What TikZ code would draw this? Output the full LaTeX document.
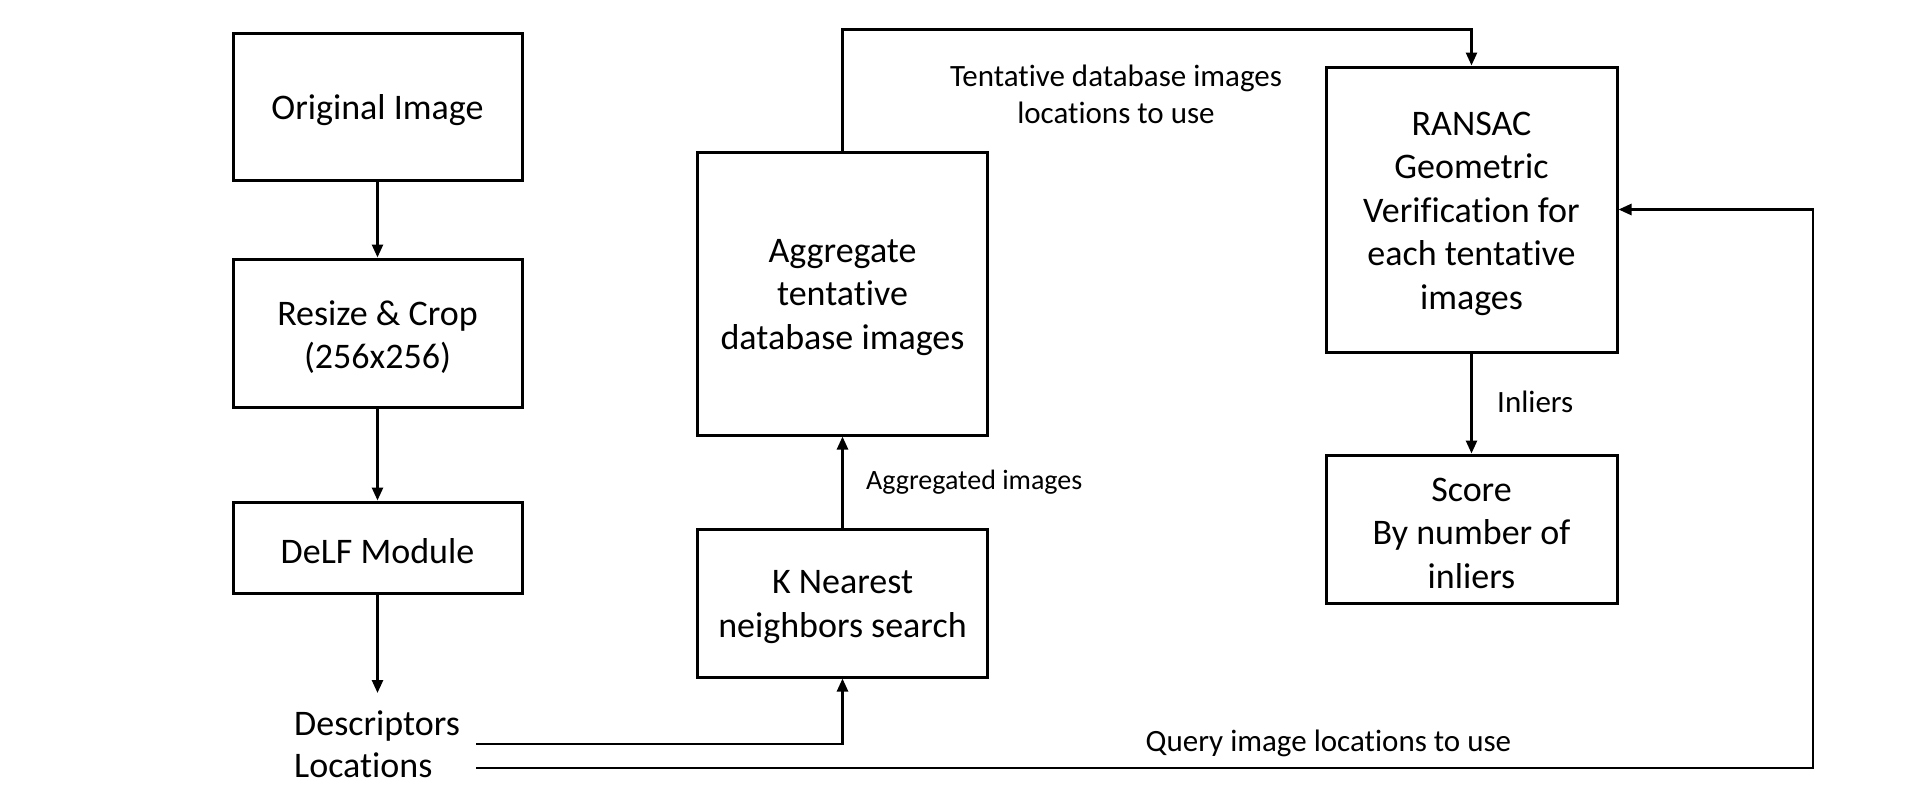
\documentclass[tikz,border=0pt]{standalone}
\usepackage{fontspec}
\setmainfont{Carlito}[Ligatures=NoCommon]
\usetikzlibrary{arrows.meta}
\begin{document}
\begin{tikzpicture}[x=1pt,y=-1pt,
  blk/.style={draw,line width=3pt,inner sep=0pt},
  btxt/.style={inner sep=0pt,align=center,yshift=-4pt,
    font=\fontsize{36}{43.5}\selectfont},
  arr/.style={line width=2.6pt,-{Triangle[length=13pt,width=11pt]}},
  lbl/.style={inner sep=0pt,font=\fontsize{31}{37.5}\selectfont},
  txt/.style={inner sep=0pt,font=\fontsize{36}{43.5}\selectfont}]
\useasboundingbox (0,0) rectangle (1920,796);
% boxes
\node[blk,minimum width=289pt,minimum height=147pt] (orig) at (377.5,106.5) {};
\node[blk,minimum width=289pt,minimum height=148pt] (resize) at (377.5,333) {};
\node[blk,minimum width=289pt,minimum height=91pt] (delf) at (377.5,547.5) {};
\node[blk,minimum width=290pt,minimum height=283pt] (agg) at (842.5,293.5) {};
\node[blk,minimum width=290pt,minimum height=148pt] (knn) at (842.5,603) {};
\node[blk,minimum width=291pt,minimum height=285pt] (ransac) at (1471.5,209.5) {};
\node[blk,minimum width=291pt,minimum height=148pt] (score) at (1471.5,529) {};
% box texts
\node[btxt] (origT) at (orig.center) {Original Image};
\node[btxt] (resizeT) at (resize.center) {Resize \& Crop\\(256x256)};
\node[btxt] (delfT) at (delf.center) {DeLF Module};
\node[btxt] (aggT) at (agg.center) {Aggregate\\tentative\\database images};
\node[btxt] (knnT) at (knn.center) {K Nearest\\neighbors search};
\node[btxt] (ransacT) at (ransac.center) {RANSAC\\Geometric\\Verification for\\each tentative\\images};
\node[btxt] (scoreT) at (score.center) {Score\\By number of\\inliers};
% outputs
\node[txt,anchor=base west] (desc) at (294,735) {Descriptors};
\node[txt,anchor=base west] (loc) at (294,777) {Locations};
% labels
\node[lbl,align=center] (tlab) at (1116,94.5) {Tentative database images\\locations to use};
\node[lbl,anchor=base west,font=\fontsize{28}{34}\selectfont] (alab) at (866,489) {Aggregated images};
\node[lbl,anchor=base west] (ilab) at (1497,412) {Inliers};
\node[lbl,anchor=base west] (qlab) at (1145.5,751) {Query image locations to use};
% coordinates
\coordinate (dtip) at (377.5,693);
\coordinate (dstart) at (476,744);
\coordinate (lstart) at (476,768);
\coordinate (rx) at (1813,768);
% connectors
\draw[arr] (orig.south) -- (resize.north);
\draw[arr] (resize.south) -- (delf.north);
\draw[arr] (delf.south) -- (dtip);
\draw[arr] (dstart) -| (knn.south);
\draw[arr] (knn.north) -- (agg.south);
\draw[arr] (agg.north) -- ++(0,-121) -| (ransac.north);
\draw[arr] (ransac.south) -- (score.north);
\draw[arr] (lstart) -- (rx) |- (ransac.east);
\end{tikzpicture}
\end{document}
